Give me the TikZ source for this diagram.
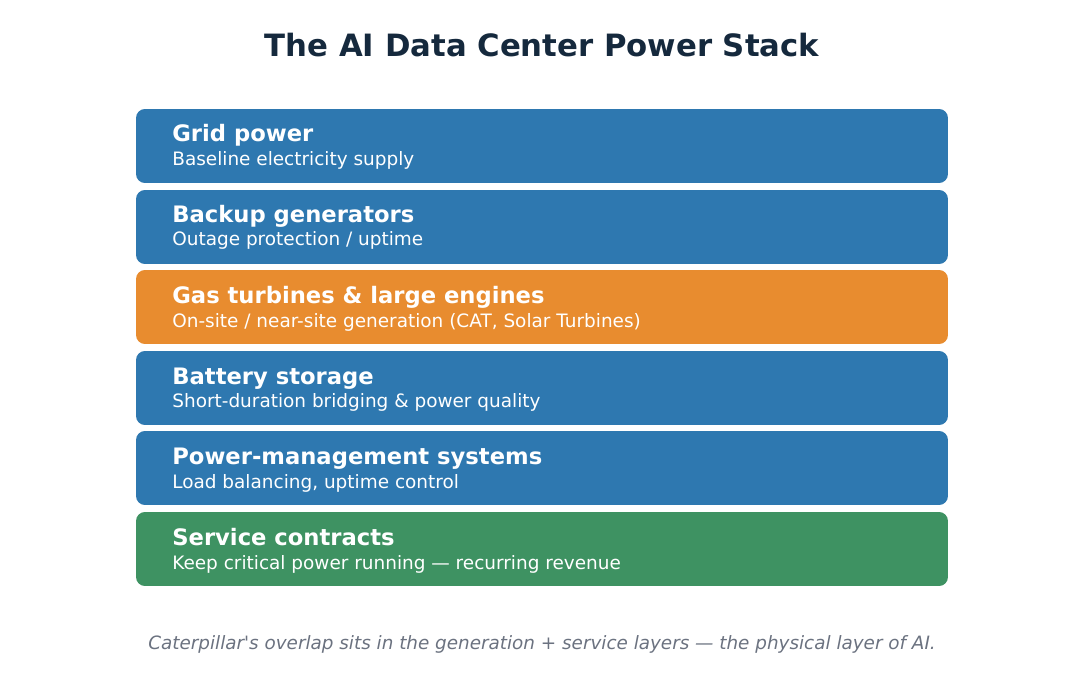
\documentclass[tikz,border=0pt]{standalone}
\usepackage{fontspec}
\setmainfont{DejaVu Sans}
\newfontfamily\plainfont[Ligatures=ResetAll]{DejaVu Sans}
\usetikzlibrary{positioning}
\definecolor{layerblue}{HTML}{2E78B0}
\definecolor{layerorange}{HTML}{E88C2F}
\definecolor{layergreen}{HTML}{3E9262}
\definecolor{titlenavy}{HTML}{15293D}
\definecolor{notegray}{HTML}{6B7280}
\tikzset{
    layer/.style={rectangle, rounded corners=5pt, draw=none, minimum width=16.24cm, minimum height=1.48cm, inner sep=0pt},
    head/.style={anchor=base west, inner sep=0pt, text=white, font=\fontsize{12.9}{15}\selectfont\bfseries},
    sub/.style={anchor=base west, inner sep=0pt, text=white, font=\fontsize{10.5}{12}\selectfont},
    title/.style={inner sep=0pt, anchor=base, text=titlenavy, font=\fontsize{17.5}{21}\selectfont\bfseries},
    note/.style={inner sep=0pt, anchor=base, text=notegray, font=\plainfont\fontsize{10.45}{12}\selectfont\itshape}
}
\begin{document}
\begin{tikzpicture}[x=0.02cm, y=-0.02cm]
    \useasboundingbox (0,0) rectangle (1083,686);
    % Title
    \node[title] (ttl) at (542,57) {The AI Data Center Power Stack};

    % Layers
    \node[layer, fill=layerblue] (grid) at (542,146) {};
    \node[layer, fill=layerblue] (backup) at (542,227) {};
    \node[layer, fill=layerorange] (gas) at (542,307) {};
    \node[layer, fill=layerblue] (battery) at (542,388) {};
    \node[layer, fill=layerblue] (pms) at (542,468) {};
    \node[layer, fill=layergreen] (service) at (542,549) {};

    % Labels
    \node[head] (gridh) at (172,142) {Grid power};
    \node[sub] (grids) at (172,166) {Baseline electricity supply};
    \node[head] (backuph) at (172,223) {Backup generators};
    \node[sub] (backups) at (172,246) {Outage protection / uptime};
    \node[head] (gash) at (172,303) {Gas turbines \& large engines};
    \node[sub] (gass) at (172,327) {On-site / near-site generation (CAT, Solar Turbines)};
    \node[head] (batteryh) at (172,384) {Battery storage};
    \node[sub] (batterys) at (172,407) {Short-duration bridging \& power quality};
    \node[head] (pmsh) at (172,464) {Power-management systems};
    \node[sub] (pmss) at (172,488) {Load balancing, uptime control};
    \node[head] (serviceh) at (172,545) {Service contracts};
    \node[sub] (services) at (172,569) {Keep critical power running — recurring revenue};

    % Footnote
    \node[note] (foot) at (542,649) {Caterpillar's overlap sits in the generation + service layers — the physical layer of AI.};
\end{tikzpicture}
\end{document}
